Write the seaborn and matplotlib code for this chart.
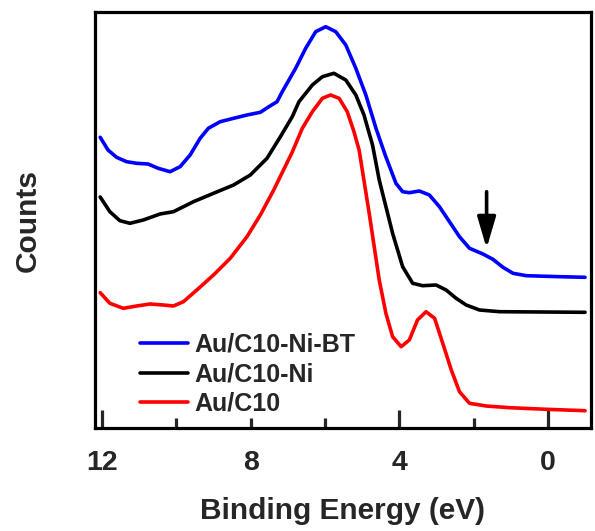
import numpy as np
import pandas as pd
import seaborn as sns
import matplotlib
matplotlib.use("Agg")
import matplotlib.pyplot as plt

# Values (binding energy in eV, counts in arbitrary units)
be_bt = [12.05, 11.84, 11.61, 11.34, 11.07, 10.76, 10.49, 10.17, 9.90, 9.63, 9.36, 9.14,
         8.82, 8.46, 8.10, 7.74, 7.51, 7.29, 7.15, 6.79, 6.52, 6.25, 5.98, 5.71,
         5.44, 5.17, 4.90, 4.63, 4.38, 4.09, 3.91, 3.73, 3.46, 3.19, 2.92, 2.65,
         2.38, 2.11, 1.75, 1.48, 1.21, 0.94, 0.58, -0.32, -1.0]
cnt_bt = [290.7, 278, 270.7, 266.3, 264.7, 264, 259.7, 256.3, 261.3, 273, 289.7, 299.7,
          306.3, 309.7, 313, 315.7, 321.3, 326.3, 336.3, 359.7, 379.7, 396.3, 401.3, 396.3,
          383, 359.7, 333, 300, 273, 244.7, 236.3, 235.3, 237, 233, 221.3, 206.3,
          191.3, 179.7, 174, 168.7, 160.7, 154.7, 152.3, 151.3, 150.7]

be_ni = [12.05, 11.79, 11.52, 11.25, 10.89, 10.44, 10.08, 9.54, 9.00, 8.46, 8.01, 7.56,
         7.20, 6.88, 6.70, 6.34, 6.07, 5.76, 5.44, 5.17, 4.95, 4.72, 4.54, 4.18,
         3.91, 3.64, 3.37, 3.01, 2.74, 2.47, 2.20, 1.84, 1.30, -1.0]
cnt_ni = [231, 216.3, 207.3, 204.7, 208, 214, 216.3, 226.3, 234.7, 243, 253, 269.7,
          291.3, 311.3, 326.3, 343, 351.3, 354.7, 348, 333, 313, 283, 248, 194.7,
          161.3, 144.7, 142.3, 143, 138, 129.7, 123, 118, 116.3, 115.7]

be_c10 = [12.05, 11.79, 11.43, 11.07, 10.71, 10.35, 10.08, 9.81, 9.45, 9.00, 8.55, 8.10,
          7.74, 7.38, 6.88, 6.61, 6.34, 6.07, 5.85, 5.62, 5.40, 5.22, 5.08, 4.81,
          4.54, 4.36, 4.18, 3.95, 3.73, 3.51, 3.28, 3.05, 2.83, 2.60, 2.38, 2.11,
          1.66, 1.03, 0.04, -1.0]
cnt_c10 = [135.3, 124.7, 119.7, 122, 124, 123, 122, 126.3, 138, 153, 169.7, 191.3,
           213, 238, 276, 299.7, 316.3, 329.7, 333, 329.7, 316.3, 296.3, 277.7, 214.7,
           148, 114.7, 91.3, 81.3, 88, 108, 116.3, 109.7, 84.7, 58, 36.3, 24.7,
           22, 20.3, 18.7, 17.3]

labels = ["Au/C10-Ni-BT", "Au/C10-Ni", "Au/C10"]
colors = ["#0000ff", "#000000", "#ff0000"]
arrow_be = 1.65

df = pd.concat([
    pd.DataFrame({"be": be_bt, "counts": cnt_bt, "sample": labels[0]}),
    pd.DataFrame({"be": be_ni, "counts": cnt_ni, "sample": labels[1]}),
    pd.DataFrame({"be": be_c10, "counts": cnt_c10, "sample": labels[2]}),
])

sns.set_style("white")
plt.rcParams["font.family"] = ["Liberation Sans", "DejaVu Sans"]
plt.rcParams["font.weight"] = "bold"

fig = plt.figure(figsize=(5.95, 5.31), dpi=100)
ax = fig.add_axes([95 / 595, 103 / 531, 496 / 595, 416 / 531])

sns.lineplot(data=df, x="be", y="counts", hue="sample", hue_order=labels,
             palette=colors, sort=False, estimator=None, linewidth=2.6, ax=ax)
for ln in ax.lines:
    ln.set_solid_joinstyle("round")

# arrow marking the feature near 1.6 eV
ax.annotate("", xy=(arrow_be, 179.7), xytext=(arrow_be, 236.3),
            arrowprops=dict(arrowstyle="-|>,head_length=0.95,head_width=0.28",
                            mutation_scale=20, color="black", lw=2.6,
                            shrinkA=0, shrinkB=0))

ax.set_xlim(12.19, -1.16)
ax.set_ylim(0, 416)
ax.set_yticks([])
ax.set_xticks([12, 8, 4, 0])
ax.set_xticklabels(["12", "8", "4", "0"], fontsize=20.5, fontweight="bold")
ax.set_xticks([10, 6, 2], minor=True)
ax.tick_params(axis="x", which="major", direction="in", length=13, width=2.3,
               pad=16, bottom=True, top=False)
ax.tick_params(axis="x", which="minor", direction="in", length=7, width=2.3,
               bottom=True, top=False)
ax.xaxis.get_major_ticks()[1].tick1line.set_markersize(7)

for s in ax.spines.values():
    s.set_linewidth(2.3)
    s.set_color("black")

ax.set_xlabel("Binding Energy (eV)", fontsize=21.5, fontweight="bold", labelpad=15)
ax.set_ylabel("Counts", fontsize=21.5, fontweight="bold", labelpad=38)

ax.legend(loc="lower left", bbox_to_anchor=(0.091, 0.029), frameon=False,
          handlelength=1.9, handletextpad=0.28, labelspacing=0.22,
          borderpad=0, borderaxespad=0,
          prop={"weight": "bold", "size": 18})

fig.savefig("out.png", dpi=100)
